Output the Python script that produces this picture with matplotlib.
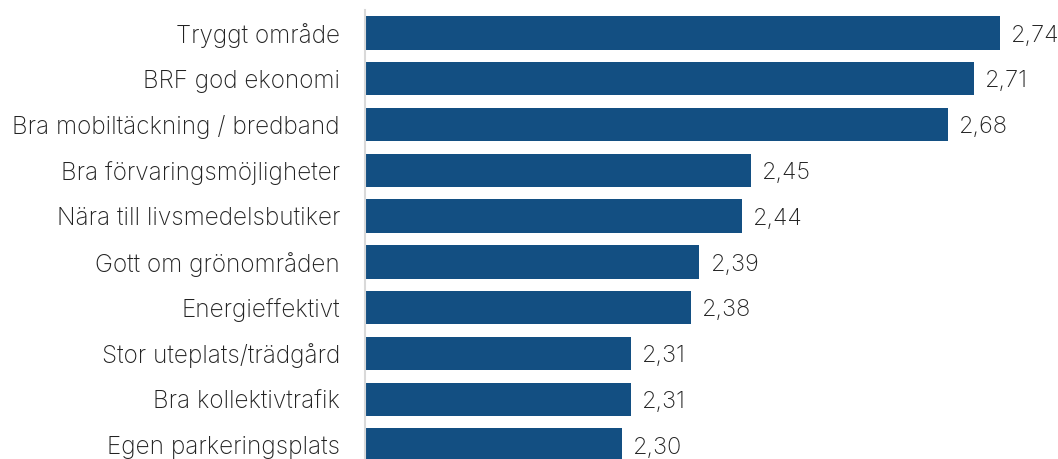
import matplotlib.pyplot as plt

categories = [
    'Tryggt område',
    'BRF god ekonomi',
    'Bra mobiltäckning / bredband',
    'Bra förvaringsmöjligheter',
    'Nära till livsmedelsbutiker',
    'Gott om grönområden',
    'Energieffektivt',
    'Stor uteplats/trädgård',
    'Bra kollektivtrafik',
    'Egen parkeringsplats',
]
values = [2.74, 2.71, 2.68, 2.45, 2.44, 2.39, 2.38, 2.31, 2.31, 2.30]

BAR_COLOR = '#134f82'
FONT_SIZE = 17
plt.rcParams['font.family'] = ['Inter', 'DejaVu Sans']

fig = plt.figure(figsize=(10.58, 4.59), dpi=100)
ax = fig.add_axes([365 / 1058, -9 / 459, (1051 - 365) / 1058, 458 / 459])

pos = list(range(len(categories)))
ax.barh(pos, values, height=0.73, color=BAR_COLOR, left=0)
ax.set_xlim(2.0, 2.8)
ax.set_ylim(len(categories) - 0.5, -0.5)

for y, v in zip(pos, values):
    ax.annotate(f'{v:.2f}'.replace('.', ','), xy=(v, y), xytext=(8, -2),
                textcoords='offset points', va='center', ha='left',
                fontsize=FONT_SIZE, color='#222222', fontweight='light')

ax.set_yticks(pos)
ax.set_yticklabels(categories, fontsize=FONT_SIZE + 0.5, color='#222222', fontweight='light')
ax.tick_params(axis='y', length=0, pad=18)
ax.set_xticks([])
for s in ['top', 'right', 'bottom']:
    ax.spines[s].set_visible(False)
ax.spines['left'].set_color('#d9d9d9')
ax.spines['left'].set_linewidth(1.5)

fig.savefig('out.png', dpi=100)
